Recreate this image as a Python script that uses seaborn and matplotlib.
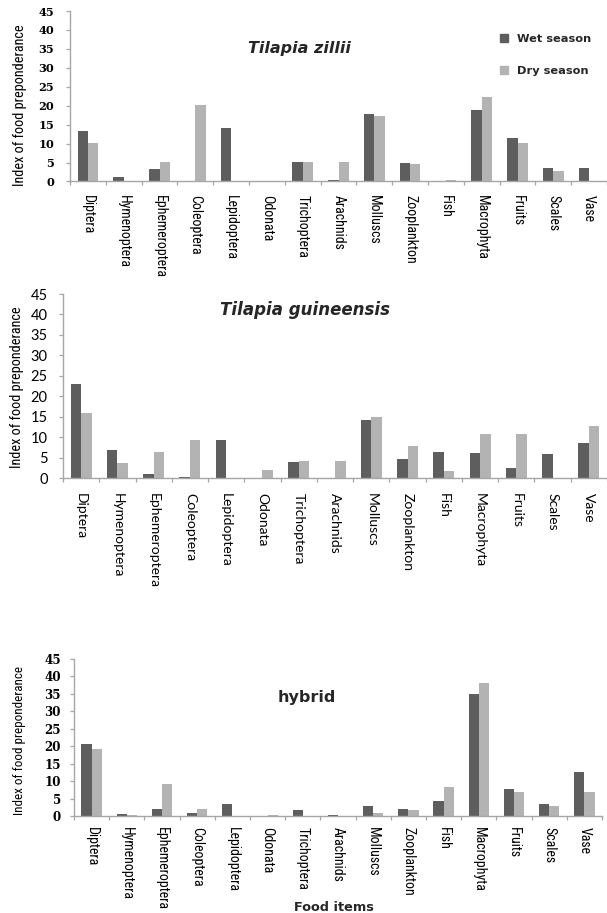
import numpy as np
import pandas as pd
import matplotlib
matplotlib.use("Agg")
import matplotlib.pyplot as plt
from matplotlib import font_manager
from matplotlib.patches import Patch
from matplotlib.ticker import FixedLocator
import seaborn as sns

# ---- data -------------------------------------------------------------
items = ["Diptera", "Hymenoptera", "Ephemeroptera", "Coleoptera", "Lepidoptera",
         "Odonata", "Trichoptera", "Arachnids", "Molluscs", "Zooplankton",
         "Fish", "Macrophyta", "Fruits", "Scales", "Vase"]
seasons = ["Wet season", "Dry season"]

zillii_wet = [13.2, 1.2, 3.4, 0.0, 14.0, 0.0, 5.1, 0.3, 17.9, 4.9, 0.0, 19.0, 11.4, 3.5, 3.5]
zillii_dry = [10.2, 0.0, 5.2, 20.2, 0.0, 0.0, 5.2, 5.2, 17.2, 4.6, 0.3, 22.2, 10.1, 2.9, 0.2]

guineensis_wet = [23.0, 6.9, 1.0, 0.3, 9.4, 0.0, 3.9, 0.0, 14.3, 4.6, 6.3, 6.2, 2.4, 5.8, 8.5]
guineensis_dry = [15.8, 3.7, 6.3, 9.2, 0.0, 2.0, 4.2, 4.2, 15.0, 7.8, 1.7, 10.8, 10.8, 0.0, 12.7]

hybrid_wet = [20.5, 0.5, 1.9, 0.9, 3.3, 0.0, 1.8, 0.2, 2.8, 2.0, 4.2, 34.9, 7.6, 3.3, 12.6]
hybrid_dry = [19.2, 0.4, 9.1, 1.9, 0.0, 0.3, 0.0, 0.1, 0.8, 1.8, 8.4, 38.1, 6.9, 2.8, 6.9]

yticks = list(range(0, 50, 5))

# ---- style ------------------------------------------------------------
WET = "#5e5e5e"
DRY = "#b3b3b3"
AXIS = "#a6a6a6"


def pick(*names):
    available = {f.name for f in font_manager.fontManager.ttflist}
    for n in names:
        if n in available:
            return n
    return "DejaVu Sans"


NARROW = pick("Liberation Sans Narrow", "Roboto Condensed", "DejaVu Sans")
CAL = pick("Lato", "Open Sans", "DejaVu Sans")
SERIF = pick("DejaVu Serif", "Liberation Serif")

sns.set_theme(style="white")
plt.rcParams["font.family"] = ["DejaVu Sans"]

W, H = 607, 913
fig = plt.figure(figsize=(W / 100, H / 100), dpi=100)


def add_axes_px(left, right, top, bottom):
    return fig.add_axes([left / W, 1 - bottom / H, (right - left) / W, (bottom - top) / H])


def draw_panel(ax, wet, dry, tick_font, cat_font, ylab_size, ytick_pad, xtick_pad,
               ylab_x, ylab_y):
    df = pd.DataFrame({
        "item": items * 2,
        "season": [seasons[0]] * len(items) + [seasons[1]] * len(items),
        "value": list(wet) + list(dry),
    })
    sns.barplot(data=df, x="item", y="value", hue="season", order=items,
                hue_order=seasons, palette=[WET, DRY], saturation=1,
                width=0.58, gap=0, errorbar=None, linewidth=0,
                legend=False, ax=ax)
    ax.set_xlim(-0.5, len(items) - 0.5)
    ax.set_ylim(0, 45)
    ax.set_yticks(yticks)
    ax.set_yticklabels([str(v) for v in yticks], **tick_font)
    ax.set_xticks(range(len(items)))
    ax.set_xticklabels(items, rotation=-90, ha="center", va="top", **cat_font)
    ax.xaxis.set_minor_locator(FixedLocator(np.arange(-0.5, len(items), 1.0)))
    ax.tick_params(axis="x", which="major", length=0, pad=xtick_pad, colors="black")
    ax.tick_params(axis="x", which="minor", length=3, width=0.9, color=AXIS,
                   direction="out", bottom=True)
    ax.tick_params(axis="y", which="major", length=3, width=0.9, color=AXIS,
                   direction="out", left=True, pad=ytick_pad, labelcolor="black")
    for side in ("top", "right"):
        ax.spines[side].set_visible(False)
    for side in ("left", "bottom"):
        ax.spines[side].set_color(AXIS)
        ax.spines[side].set_linewidth(1.0)
    ax.set_xlabel("")
    ax.set_ylabel("Index of food preponderance", family=NARROW, fontsize=ylab_size,
                  color="black", va="center")
    ax.yaxis.set_label_coords(ylab_x, ylab_y)
    ax.set_facecolor("white")


narrow_cats = dict(family=NARROW, fontsize=10)

# Tilapia zillii
ax1 = add_axes_px(70, 607, 11, 181.5)
draw_panel(ax1, zillii_wet, zillii_dry,
           dict(family=SERIF, fontweight="bold", fontsize=8.2), narrow_cats, 10.3,
           ytick_pad=8.5, xtick_pad=9.5, ylab_x=(20 - 70) / 537, ylab_y=0.45)
ax1.text(299 / W, 1 - 48 / H, "Tilapia zillii", transform=fig.transFigure,
         ha="center", va="center", fontsize=11.5, fontweight="bold",
         fontstyle="italic", family="DejaVu Sans")
ax1.legend(handles=[Patch(color=WET, label=seasons[0]),
                    Patch(color=DRY, label=seasons[1])],
           loc="upper left", bbox_to_anchor=(500 / W, 1 - 34 / H),
           bbox_transform=fig.transFigure, frameon=False,
           handlelength=0.7, handleheight=0.7, handletextpad=0.8,
           labelspacing=1.9, borderpad=0, borderaxespad=0,
           prop=dict(family="DejaVu Sans", weight="bold", size=8.2))

# Tilapia guineensis
ax2 = add_axes_px(63, 607, 294, 478)
draw_panel(ax2, guineensis_wet, guineensis_dry,
           dict(family=CAL, fontsize=10.5), dict(family=CAL, fontsize=10), 10.3,
           ytick_pad=8, xtick_pad=11, ylab_x=(17 - 63) / 544, ylab_y=0.495)
ax2.text(305 / W, 1 - 310 / H, "Tilapia guineensis", transform=fig.transFigure,
         ha="center", va="center", fontsize=12, fontweight="bold",
         fontstyle="italic", family="DejaVu Sans")

# hybrid
ax3 = add_axes_px(74, 602, 659, 816)
draw_panel(ax3, hybrid_wet, hybrid_dry,
           dict(family=SERIF, fontweight="bold", fontsize=8.6), narrow_cats, 9.4,
           ytick_pad=6.5, xtick_pad=8, ylab_x=(20 - 74) / 528, ylab_y=0.484)
ax3.text(307 / W, 1 - 697 / H, "hybrid", transform=fig.transFigure,
         ha="center", va="center", fontsize=11.5, fontweight="bold",
         family="DejaVu Sans")
ax3.set_xlabel("Food items", fontsize=9.3, fontweight="bold", family="DejaVu Sans",
               va="center")
ax3.xaxis.set_label_coords((334 - 74) / 528, (816 - 907) / 157)

fig.savefig("out.png", dpi=100, facecolor="white")
